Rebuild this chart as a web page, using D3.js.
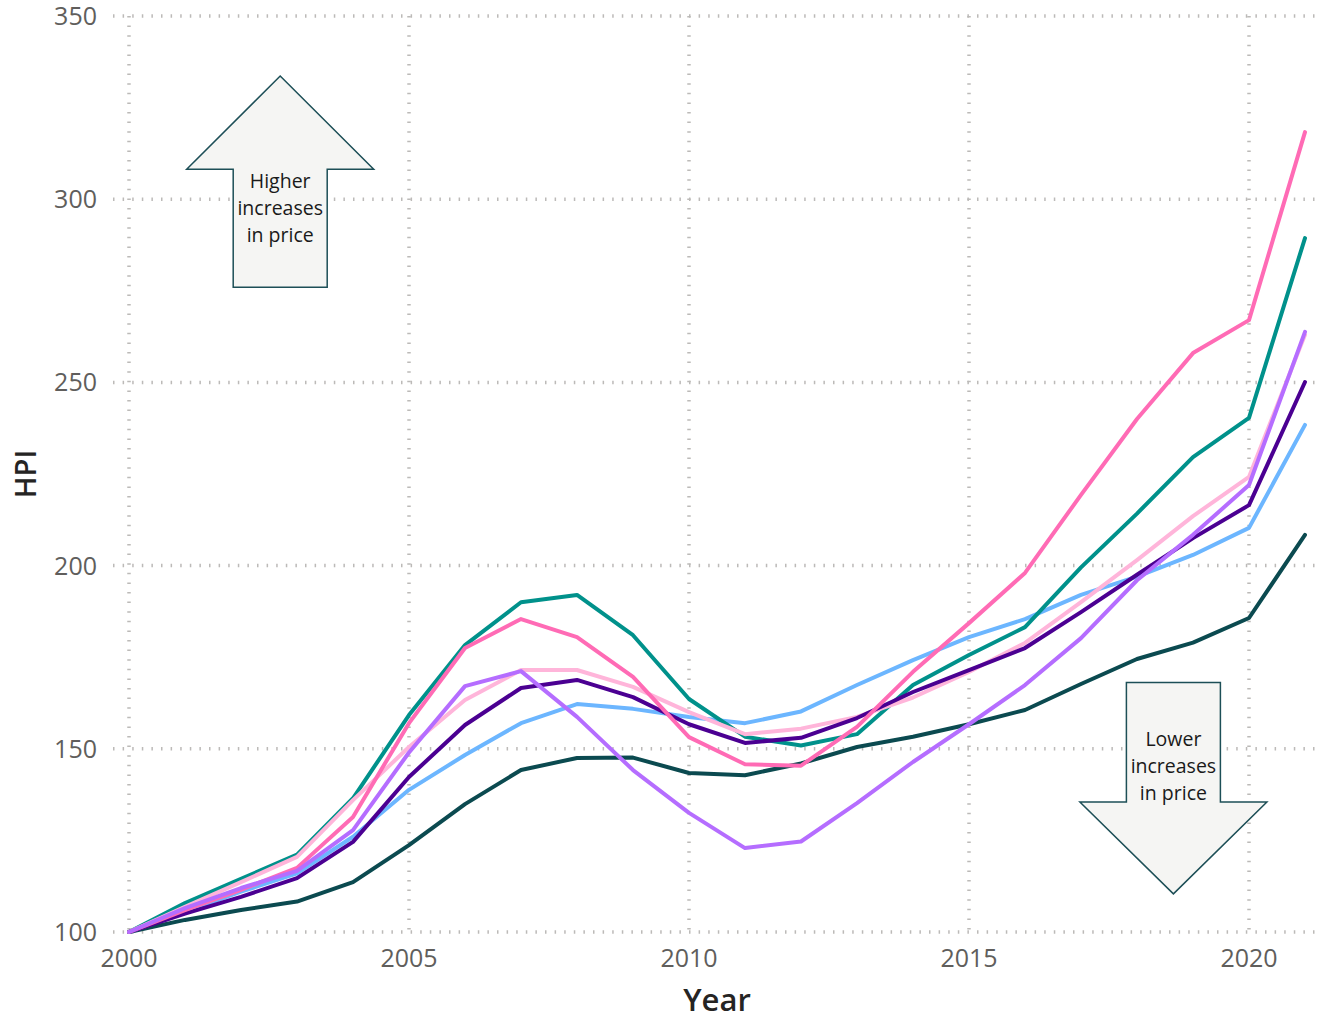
<!DOCTYPE html>
<html>
<head>
<meta charset="utf-8">
<script src="https://cdn.jsdelivr.net/npm/d3@7"></script>
<style>
    body { margin: 0; background: #ffffff; }
    svg text { font-family: 'Open Sans', 'Noto Sans', sans-serif; }
</style>
</head>
<body>
<div id="chart"></div>
<script>
// ---- data ----
var years = d3.range(2000, 2022);
var yTicks = [100, 150, 200, 250, 300, 350];
var xTicks = [2000, 2005, 2010, 2015, 2020];

var darkTeal   = [100, 103.3, 106, 108.3, 113.6, 123.7, 134.9, 144.2, 147.5, 147.6, 143.4, 142.8, 146, 150.5, 153.3, 156.7, 160.6, 167.7, 174.5, 179, 185.7, 208.4];
var lightBlue  = [100, 105.5, 111, 116, 126, 138.8, 148.3, 157, 162.2, 160.9, 158.7, 157, 160.2, 167.4, 174.2, 180.5, 185.4, 192, 197, 202.9, 210.3, 238.4];
var teal       = [100, 107.9, 114.5, 121.1, 136.5, 159.2, 178.3, 190, 192, 181, 163.6, 153.3, 150.9, 154, 167.4, 175.6, 183.2, 199.5, 214.2, 229.6, 240.3, 289.4];
var lightPink  = [100, 106.9, 113.6, 120.5, 136, 150.5, 163.3, 171.5, 171.5, 166.9, 160, 154, 155.5, 158.7, 164, 171, 178.9, 190, 201.5, 213.5, 224.2, 263];
var darkPurple = [100, 105, 109.6, 114.7, 124.6, 142.3, 156.5, 166.6, 168.8, 164.1, 156.7, 151.6, 153, 158.4, 165.5, 171.5, 177.5, 187.3, 197.5, 207.5, 216.5, 250.1];
var hotPink    = [100, 106, 111.5, 117.5, 131.4, 157, 177.5, 185.4, 180.5, 169.6, 153.2, 145.8, 145.4, 156, 171, 184.3, 198, 219.3, 240, 258, 267, 318.3];
var lavender   = [100, 106.5, 112, 116.7, 127.8, 149, 167.1, 171.2, 158.7, 144.2, 132.5, 122.9, 124.7, 135.2, 146.4, 156.7, 167.4, 180.2, 196, 208.4, 222, 263.8];

// drawn bottom to top
var seriesNames  = ['darkTeal', 'lightBlue', 'teal', 'lightPink', 'darkPurple', 'hotPink', 'lavender'];
var seriesValues = [darkTeal, lightBlue, teal, lightPink, darkPurple, hotPink, lavender];
var seriesColors = ['#0b4a50', '#6cb6ff', '#00918b', '#ffb5da', '#4b0092', '#ff6bb5', '#b56dff'];

// annotation arrows, anchored in data units
var arrowNotes = [
    { dir: 'up',   year: 2002.7,  tip: 333.6, base: 308.2, end: 276,   lines: ['Higher', 'increases', 'in price'] },
    { dir: 'down', year: 2018.65, tip: 110.4, base: 135.5, end: 168.1, lines: ['Lower', 'increases', 'in price'] }
];

var width = 1320;
var height = 1021;

var x = d3.scaleLinear().domain([2000, 2021]).range([129, 1305]);
var y = d3.scaleLinear().domain([100, 350]).range([932, 16]);

var svg = d3.select('#chart')
    .append('svg')
    .attr('width', width)
    .attr('height', height);

// grid
var grid_g = svg.append('g');

grid_g.selectAll('.hgrid')
    .data(yTicks)
    .enter()
    .append('line')
    .attr('x1', 113)
    .attr('x2', 1318)
    .attr('y1', function (d) { return y(d); })
    .attr('y2', function (d) { return y(d); })
    .attr('stroke', '#bcbab8')
    .attr('stroke-width', 3.5)
    .attr('stroke-dasharray', '1.5,8.1');

grid_g.selectAll('.vgrid')
    .data(xTicks)
    .enter()
    .append('line')
    .attr('x1', function (d) { return x(d); })
    .attr('x2', function (d) { return x(d); })
    .attr('y1', y(350))
    .attr('y2', y(100))
    .attr('stroke', '#bcbab8')
    .attr('stroke-width', 3.5)
    .attr('stroke-dasharray', '1.5,8.1');

// y tick labels
svg.append('g').selectAll('text')
    .data(yTicks)
    .enter()
    .append('text')
    .attr('x', 97)
    .attr('y', function (d) { return y(d); })
    .attr('dy', '0.36em')
    .attr('text-anchor', 'end')
    .attr('fill', '#605e5c')
    .attr('font-size', 25)
    .text(function (d) { return d; });

// x tick labels
svg.append('g').selectAll('text')
    .data(xTicks)
    .enter()
    .append('text')
    .attr('x', function (d) { return x(d); })
    .attr('y', 967)
    .attr('text-anchor', 'middle')
    .attr('fill', '#605e5c')
    .attr('font-size', 25)
    .text(function (d) { return d; });

// axis titles
svg.append('text')
    .attr('x', 717)
    .attr('y', 1011)
    .attr('text-anchor', 'middle')
    .attr('fill', '#252423')
    .attr('font-size', 31)
    .attr('font-weight', 600)
    .text('Year');

svg.append('text')
    .attr('transform', 'translate(36, 474) rotate(-90)')
    .attr('text-anchor', 'middle')
    .attr('fill', '#252423')
    .attr('font-size', 29)
    .attr('font-weight', 600)
    .text('HPI');

// arrows
var headHalf = 93.5;
var shaftHalf = 47;

var arrow_g = svg.append('g');

arrowNotes.forEach(function (a) {
    var cx = x(a.year);
    var tipY = y(a.tip), baseY = y(a.base), endY = y(a.end);
    var pts = [
        [cx, tipY],
        [cx + headHalf, baseY],
        [cx + shaftHalf, baseY],
        [cx + shaftHalf, endY],
        [cx - shaftHalf, endY],
        [cx - shaftHalf, baseY],
        [cx - headHalf, baseY]
    ];
    arrow_g.append('polygon')
        .attr('points', pts.map(function (p) { return p.join(','); }).join(' '))
        .attr('fill', '#f5f5f3')
        .attr('stroke', '#1d4f57')
        .attr('stroke-width', 1.5)
        .attr('stroke-linejoin', 'miter');

    // text sits inside the shaft
    var firstBase = a.dir === 'up' ? baseY + 19 : endY + 64;
    arrow_g.append('g').selectAll('text')
        .data(a.lines)
        .enter()
        .append('text')
        .attr('x', cx)
        .attr('y', function (d, i) { return firstBase + i * 26.8; })
        .attr('text-anchor', 'middle')
        .attr('fill', '#1a1a1a')
        .attr('font-size', 19.5)
        .text(function (d) { return d; });
});

// lines
var line = d3.line()
    .x(function (d, i) { return x(years[i]); })
    .y(function (d) { return y(d); });

svg.append('g').selectAll('path')
    .data(seriesValues)
    .enter()
    .append('path')
    .attr('class', function (d, i) { return 'series ' + seriesNames[i]; })
    .attr('d', line)
    .attr('fill', 'none')
    .attr('stroke', function (d, i) { return seriesColors[i]; })
    .attr('stroke-width', 4)
    .attr('stroke-linejoin', 'round')
    .attr('stroke-linecap', 'round');
</script>
</body>
</html>
